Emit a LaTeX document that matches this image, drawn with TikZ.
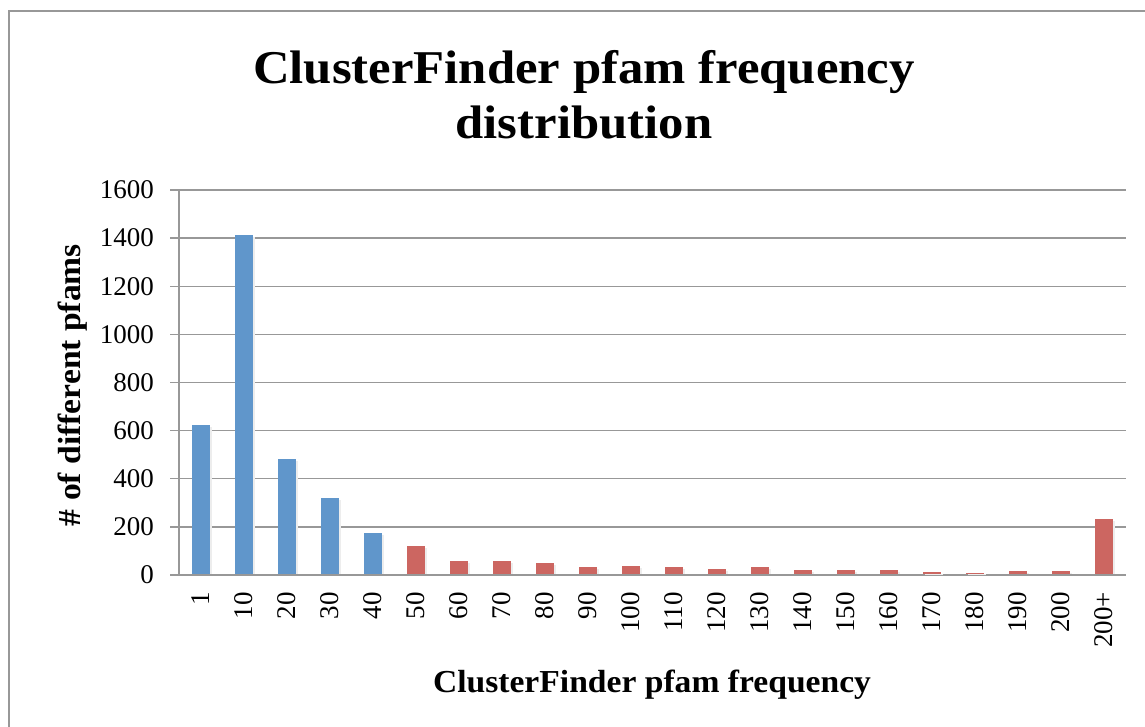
\documentclass[tikz,border=0pt]{standalone}
\usepackage{fontspec}
\setmainfont{Liberation Serif}
\definecolor{barblue}{RGB}{96,150,203}
\definecolor{barred}{RGB}{204,102,97}
\definecolor{gridgray}{RGB}{152,152,152}
\begin{document}
\begin{tikzpicture}[x=1pt,y=-1pt,
  gridline/.style={draw=gridgray, line width=1.4pt},
  framel/.style={draw=gridgray, line width=1.5pt},
  ticklab/.style={inner sep=0pt, font=\fontsize{27}{31}\selectfont},
  barshadow/.style={fill=black!7},
  titletext/.style={inner sep=0pt, font=\fontsize{47}{56}\selectfont\bfseries},
  axistitle/.style={inner sep=0pt, font=\fontsize{32}{38}\selectfont\bfseries}]
\useasboundingbox (0,0) rectangle (1145,727);
\fill[white] (0,0) rectangle (1145,727);
% chart frame (right and bottom edges lie outside the picture)
\draw[framel] (9,727) -- (9,11) -- (1145,11);
% title
\node[titletext, anchor=base] (title1) at (584,84) {\scalebox{1.08}[1]{ClusterFinder pfam frequency}};
\node[titletext, anchor=base] (title2) at (584,139) {\scalebox{1.08}[1]{distribution}};
% gridlines and y tick labels
\foreach \v in {0,200,...,1600} {
  \pgfmathsetmacro\yy{575-\v*0.240625}
  \draw[gridline] (170,\yy) -- (1126,\yy);
  \node[ticklab, anchor=east] (ytick\v) at (154,\yy) {\v};
}
% y axis
\draw[gridline] (179,190) -- (179,575);
% bars
\foreach \val [count=\i from 0] in {619,1409,478,316,170,118,54,54,45,28,34,28,20,28,16,18,18,10,4,13,13,228} {
  \pgfmathsetmacro\cx{200.5+43*\i}
  \pgfmathsetmacro\top{574-\val*0.240625}
  \ifnum\i<5 \def\bc{barblue}\else\def\bc{barred}\fi
  \fill[barshadow] (\cx-9+2,\top+2) rectangle (\cx+9+2,574);
  \fill[\bc] (\cx-9,\top) rectangle (\cx+9,574);
}
% x tick labels
\foreach \lab [count=\i from 0] in {1,10,20,30,40,50,60,70,80,90,100,110,120,130,140,150,160,170,180,190,200,200+} {
  \pgfmathsetmacro\cx{200.5+43*\i}
  \node[ticklab, rotate=90, anchor=east] (xtick\i) at (\cx,592) {\lab};
}
% axis titles
\node[axistitle, anchor=base] (xtitle) at (652,692) {\scalebox{1.05}[1]{ClusterFinder pfam frequency}};
\node[axistitle, rotate=90, anchor=base] (ytitle) at (80,385) {\scalebox{1.05}[1]{\# of different pfams}};
\end{tikzpicture}
\end{document}
